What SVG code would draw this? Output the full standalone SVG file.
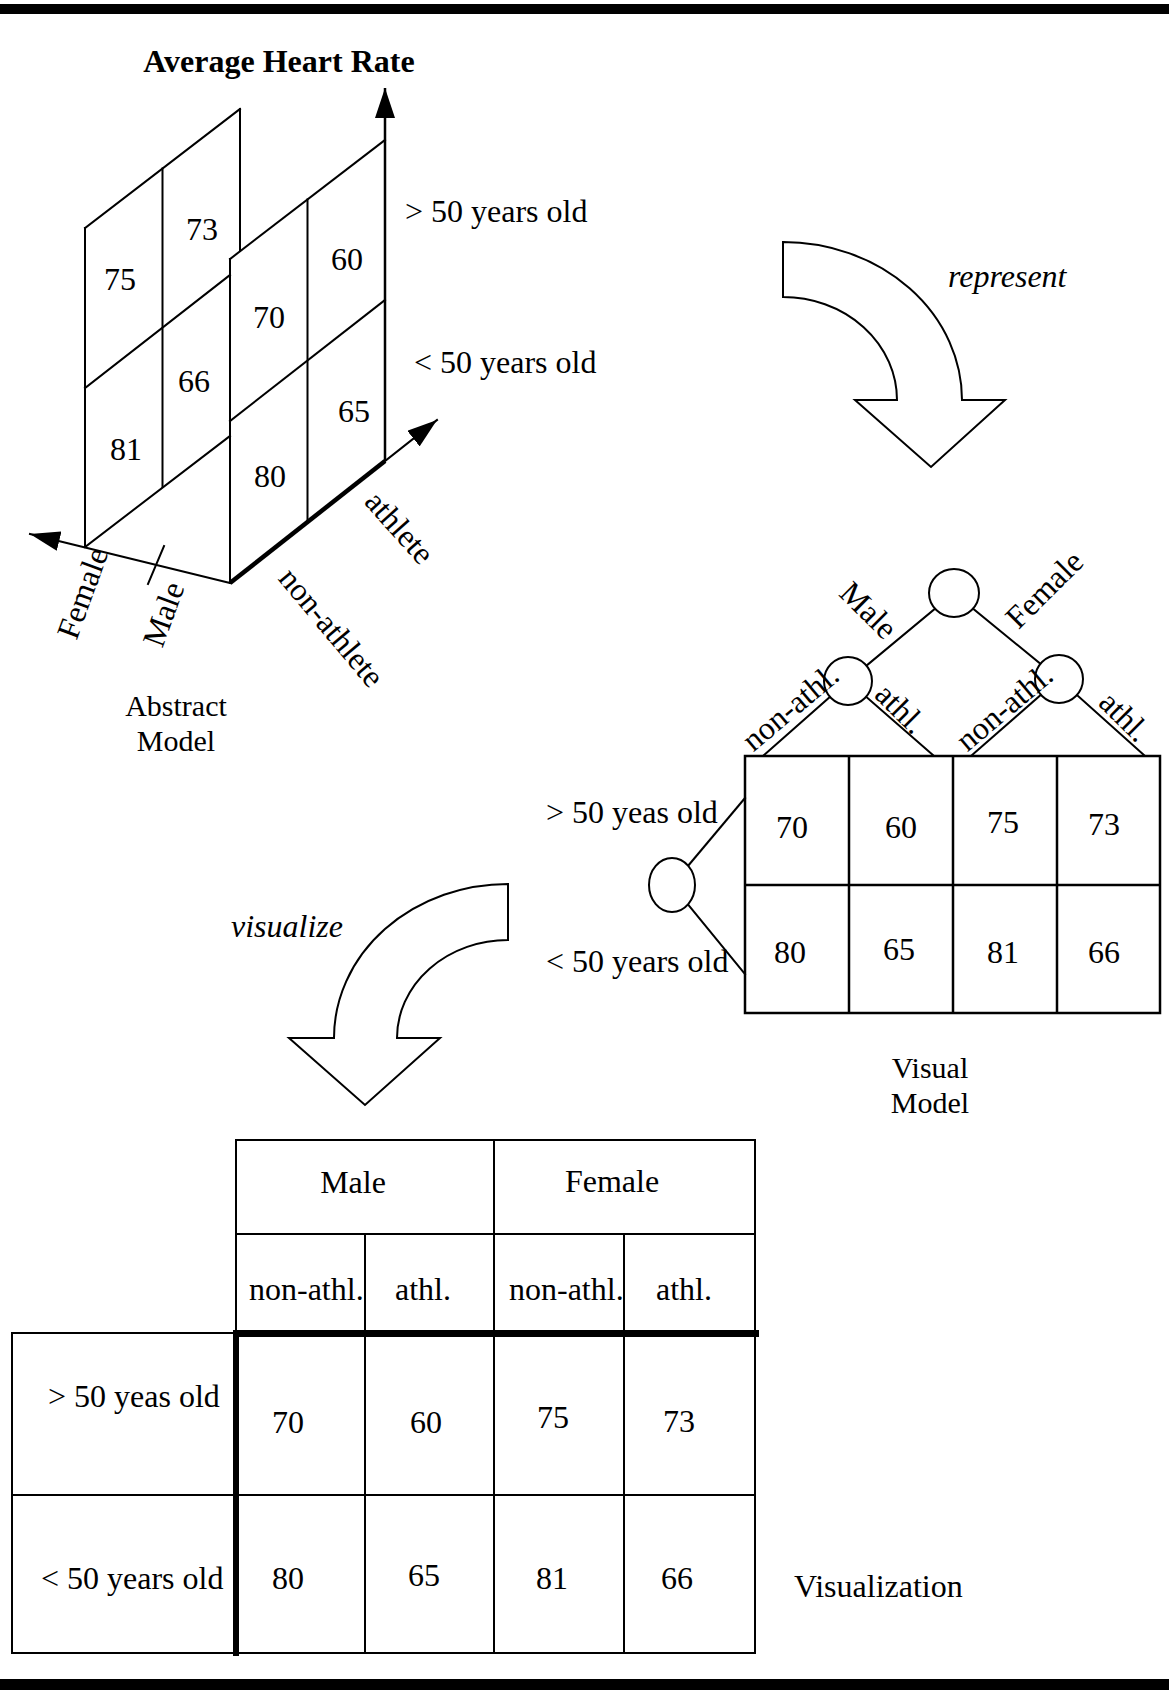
<svg xmlns="http://www.w3.org/2000/svg" width="1169" height="1690" viewBox="0 0 1169 1690">
  <defs>
    <style>
      .ln { stroke:#000; stroke-width:2; fill:none; stroke-linecap:square; }
      .tk { stroke:#000; stroke-width:2.5; fill:none; }
      .bold-ln { stroke:#000; stroke-width:7; fill:none; }
      .shape { stroke:#000; stroke-width:2; fill:#fff; stroke-linejoin:miter; }
      .node { stroke:#000; stroke-width:2; fill:#fff; }
      text { font-family:"Liberation Serif","Times New Roman",serif; font-size:32px; fill:#000; }
      .c { text-anchor:middle; }
      .i { font-style:italic; }
      .b { font-weight:bold; }
      .cap { font-size:30px; }
    </style>
    <marker id="head" viewBox="0 0 30 20" refX="30" refY="10" markerWidth="30" markerHeight="20" markerUnits="userSpaceOnUse" orient="auto">
      <path d="M0,0 L30,10 L0,20 Z" fill="#000"/>
    </marker>
  </defs>

  <rect width="1169" height="1690" fill="#fff"/>

  <!-- page rules -->
  <rect x="0" y="4" width="1169" height="10" fill="#000"/>
  <rect x="0" y="1679" width="1169" height="11" fill="#000"/>

  <!-- abstract model: two stacked panels with three axes -->
  <g id="abstract-model">
    <text class="c b" x="279" y="72">Average Heart Rate</text>
    <!-- back panel (Female) -->
    <g class="ln">
      <line x1="85" y1="228" x2="85" y2="547"/>
      <line x1="85" y1="228" x2="240" y2="109"/>
      <line x1="240" y1="109" x2="240" y2="251"/>
      <line x1="85" y1="388" x2="230" y2="275"/>
      <line x1="85" y1="547" x2="230" y2="436"/>
      <line x1="162.5" y1="168.5" x2="162.5" y2="487"/>
    </g>
    <!-- front panel (Male) -->
    <g class="ln">
      <line x1="230" y1="259" x2="230" y2="583"/>
      <line x1="230" y1="259" x2="385" y2="140"/>
      <line x1="230" y1="421" x2="385" y2="300"/>
      <line x1="307.5" y1="199.5" x2="307.5" y2="522"/>
    </g>
    <!-- axes -->
    <line class="tk" x1="385" y1="461" x2="385" y2="88" marker-end="url(#head)"/>
    <line x1="230" y1="583" x2="385" y2="461" stroke="#000" stroke-width="4.5"/>
    <line class="ln" x1="385" y1="461" x2="437" y2="420" marker-end="url(#head)"/>
    <line class="ln" x1="230" y1="583" x2="30" y2="534" marker-end="url(#head)"/>
    <line class="ln" x1="164" y1="546" x2="148" y2="584"/>

    <text class="c" x="120" y="290">75</text>
    <text class="c" x="202" y="240">73</text>
    <text class="c" x="269" y="328">70</text>
    <text class="c" x="347" y="270">60</text>
    <text class="c" x="194" y="392">66</text>
    <text class="c" x="354" y="422">65</text>
    <text class="c" x="126" y="460">81</text>
    <text class="c" x="270" y="487">80</text>

    <text x="405" y="222">&gt; 50 years old</text>
    <text x="414" y="373">&lt; 50 years old</text>

    <text class="c" transform="translate(400,527) rotate(48)" dy="0.35em">athlete</text>
    <text class="c" transform="translate(332,627) rotate(50)" dy="0.35em">non-athlete</text>
    <text class="c" transform="translate(82,593) rotate(-70)" dy="0.35em">Female</text>
    <text class="c" transform="translate(163,614) rotate(-70)" dy="0.35em">Male</text>

    <text class="c cap" x="176" y="716">Abstract</text>
    <text class="c cap" x="176" y="751">Model</text>
  </g>

  <!-- curved block arrow: represent -->
  <g id="represent-arrow">
    <path class="shape" d="M783,242 A179,158 0 0 1 962,400 L1005,400 L931,467 L855,400 L897,400 A114,103 0 0 0 783,297 Z"/>
    <text class="i" x="948" y="287">represent</text>
  </g>

  <!-- tree edges of the visual model -->
  <g id="connectors" class="ln">
    <line x1="954" y1="593" x2="848" y2="681"/>
    <line x1="954" y1="593" x2="1059" y2="679"/>
    <line x1="848" y1="681" x2="764" y2="755"/>
    <line x1="848" y1="681" x2="933" y2="755"/>
    <line x1="1059" y1="679" x2="972" y2="755"/>
    <line x1="1059" y1="679" x2="1144" y2="755"/>
    <line x1="672" y1="885" x2="745" y2="798"/>
    <line x1="672" y1="885" x2="745" y2="974"/>
  </g>

  <!-- visual model: tree nodes and grid -->
  <g id="visual-model">
    <g id="root-node"><ellipse class="node" cx="954" cy="593" rx="25" ry="24"/></g>
    <g id="male-node"><ellipse class="node" cx="848" cy="681" rx="24" ry="24"/></g>
    <g id="female-node"><ellipse class="node" cx="1059" cy="679" rx="24" ry="24"/></g>
    <g id="age-node"><ellipse class="node" cx="672" cy="885" rx="23" ry="27"/></g>

    <text class="c" transform="translate(869,610) rotate(45)" dy="0.35em">Male</text>
    <text class="c" transform="translate(1044,589) rotate(-45)" dy="0.35em">Female</text>
    <text class="c" transform="translate(790,707) rotate(-40)" dy="0.35em">non-athl.</text>
    <text class="c" transform="translate(901,708) rotate(45)" dy="0.35em">athl.</text>
    <text class="c" transform="translate(1004,707) rotate(-40)" dy="0.35em">non-athl.</text>
    <text class="c" transform="translate(1125,716) rotate(45)" dy="0.35em">athl.</text>

    <text x="546" y="823">&gt; 50 yeas old</text>
    <text x="546" y="972">&lt; 50 years old</text>

    <g class="tk">
      <rect x="745" y="756" width="415" height="257"/>
      <line x1="745" y1="885" x2="1160" y2="885"/>
      <line x1="849" y1="756" x2="849" y2="1013"/>
      <line x1="953" y1="756" x2="953" y2="1013"/>
      <line x1="1057" y1="756" x2="1057" y2="1013"/>
    </g>
    <text class="c" x="792" y="838">70</text>
    <text class="c" x="901" y="838">60</text>
    <text class="c" x="1003" y="833">75</text>
    <text class="c" x="1104" y="835">73</text>
    <text class="c" x="790" y="963">80</text>
    <text class="c" x="899" y="960">65</text>
    <text class="c" x="1003" y="963">81</text>
    <text class="c" x="1104" y="963">66</text>

    <text class="c cap" x="930" y="1078">Visual</text>
    <text class="c cap" x="930" y="1113">Model</text>
  </g>

  <!-- curved block arrow: visualize -->
  <g id="visualize-arrow">
    <path class="shape" d="M508,884 A174,154 0 0 0 334,1038 L289,1038 L365,1105 L440,1038 L397,1038 A111,98 0 0 1 508,940 Z"/>
    <text class="i" x="231" y="937">visualize</text>
  </g>

  <!-- visualization: cross table -->
  <g id="visualization">
    <g class="ln">
      <line x1="236" y1="1140" x2="755" y2="1140"/>
      <line x1="236" y1="1234" x2="755" y2="1234"/>
      <line x1="236" y1="1140" x2="236" y2="1333"/>
      <line x1="755" y1="1140" x2="755" y2="1653"/>
      <line x1="494" y1="1140" x2="494" y2="1653"/>
      <line x1="365" y1="1234" x2="365" y2="1653"/>
      <line x1="624" y1="1234" x2="624" y2="1653"/>
      <line x1="12" y1="1333" x2="236" y2="1333"/>
      <line x1="12" y1="1333" x2="12" y2="1653"/>
      <line x1="12" y1="1495" x2="755" y2="1495"/>
      <line x1="12" y1="1653" x2="755" y2="1653"/>
    </g>
    <line class="bold-ln" x1="233" y1="1333.5" x2="759" y2="1333.5"/>
    <line x1="236" y1="1330" x2="236" y2="1656" stroke="#000" stroke-width="6"/>

    <text class="c" x="353" y="1193">Male</text>
    <text class="c" x="612" y="1192">Female</text>
    <text x="249" y="1300">non-athl.</text>
    <text x="395" y="1300">athl.</text>
    <text x="509" y="1300">non-athl.</text>
    <text x="656" y="1300">athl.</text>

    <text x="48" y="1407">&gt; 50 yeas old</text>
    <text x="41" y="1589">&lt; 50 years old</text>

    <text class="c" x="288" y="1433">70</text>
    <text class="c" x="426" y="1433">60</text>
    <text class="c" x="553" y="1428">75</text>
    <text class="c" x="679" y="1432">73</text>
    <text class="c" x="288" y="1589">80</text>
    <text class="c" x="424" y="1586">65</text>
    <text class="c" x="552" y="1589">81</text>
    <text class="c" x="677" y="1589">66</text>

    <text x="794" y="1597">Visualization</text>
  </g>
</svg>
